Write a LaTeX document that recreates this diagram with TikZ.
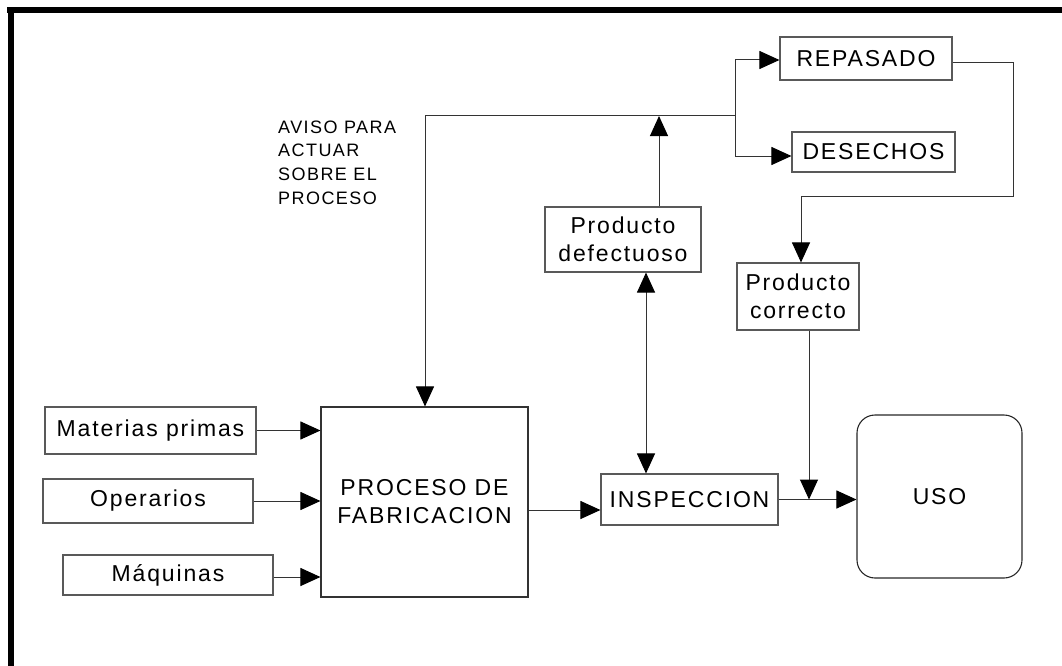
\documentclass[tikz,border=0pt]{standalone}
\usepackage{fontspec}
\setmainfont{Liberation Sans}
\newfontfamily\bxfont{Liberation Sans}[LetterSpace=8]
\usetikzlibrary{arrows.meta}
\begin{document}
\begin{tikzpicture}[x=1pt,y=-1pt,
  bx/.style={rectangle, draw=black!65, line width=1.1pt, font=\bxfont\fontsize{23}{28}\selectfont, align=center, inner sep=0pt},
  arr/.style={draw=black!80, line width=1pt, -{Triangle[length=20pt,width=18pt,black]}},
  dbl/.style={draw=black!80, line width=1pt, {Triangle[length=20pt,width=18pt,black]}-{Triangle[length=20pt,width=18pt,black]}},
  ln/.style={draw=black!80, line width=1pt}]
\useasboundingbox (0,0) rectangle (1062,666);
% frame
\fill[black] (7,7) rectangle (1062,13);
\fill[black] (8,7) rectangle (14,666);
% nodes
\node[bx, minimum width=211pt, minimum height=47pt] (mp) at (150.5,430.5) {Materias primas};
\node[bx, minimum width=210pt, minimum height=44pt] (op) at (148,501) {Operarios};
\node[bx, minimum width=210pt, minimum height=40pt] (maq) at (168,575) {Máquinas};
\node[bx, draw=black!80, minimum width=207pt, minimum height=190pt] (proc) at (424.5,502) {PROCESO DE\\FABRICACION};
\node[bx, minimum width=177pt, minimum height=51pt] (insp) at (689.5,499.5) {INSPECCION};
\node[bx, draw=black!85, minimum width=165pt, minimum height=163pt, rounded corners=18pt] (uso) at (939.5,496.5) {USO};
\node[bx, minimum width=156pt, minimum height=65pt] (def) at (623,239.5) {Producto\\defectuoso};
\node[bx, minimum width=122pt, minimum height=67pt] (cor) at (798,296.5) {Producto\\correcto};
\node[bx, minimum width=172pt, minimum height=43pt] (rep) at (866,58.5) {REPASADO};
\node[bx, minimum width=163pt, minimum height=40pt] (des) at (873.5,152) {DESECHOS};
\node[anchor=north west, align=left, inner sep=0pt, font=\bxfont\fontsize{18}{23.7}\selectfont] (aviso) at (278,120.5) {AVISO PARA\\ACTUAR\\SOBRE EL\\PROCESO};
% coordinates
\coordinate (split) at (735,116);
\coordinate (fbk) at (425,116);
\coordinate (r1) at (1013,196);
% connectors
\draw[arr] (mp.east) -- (mp.east -| proc.west);
\draw[arr] (op.east) -- (op.east -| proc.west);
\draw[arr] ([yshift=-2pt]maq.east) -- ([yshift=-2pt]maq.east -| proc.west);
\draw[arr] ([yshift=-8pt]proc.east) -- ([yshift=-8pt]proc.east -| insp.west);
\draw[arr] (insp.east) -- (insp.east -| uso.west);
\draw[arr] ([xshift=11pt]cor.south) -- ([xshift=11pt]cor.south |- insp.east);
\draw[dbl] ([xshift=23pt]def.south) -- ([xshift=23pt]def.south |- insp.north);
\draw[arr] ([xshift=36pt]def.north) -- ([xshift=36pt]def.north |- split);
\draw[ln] (split) -- (fbk);
\draw[arr] (fbk) -- (fbk |- proc.north);
\draw[arr] (split) |- ([yshift=-1.5pt]rep.west);
\draw[arr] (split) |- ([yshift=-4pt]des.west);
\draw[arr] ([yshift=-4.5pt]rep.east) -| (r1) -| ([xshift=3pt]cor.north);
\end{tikzpicture}
\end{document}
